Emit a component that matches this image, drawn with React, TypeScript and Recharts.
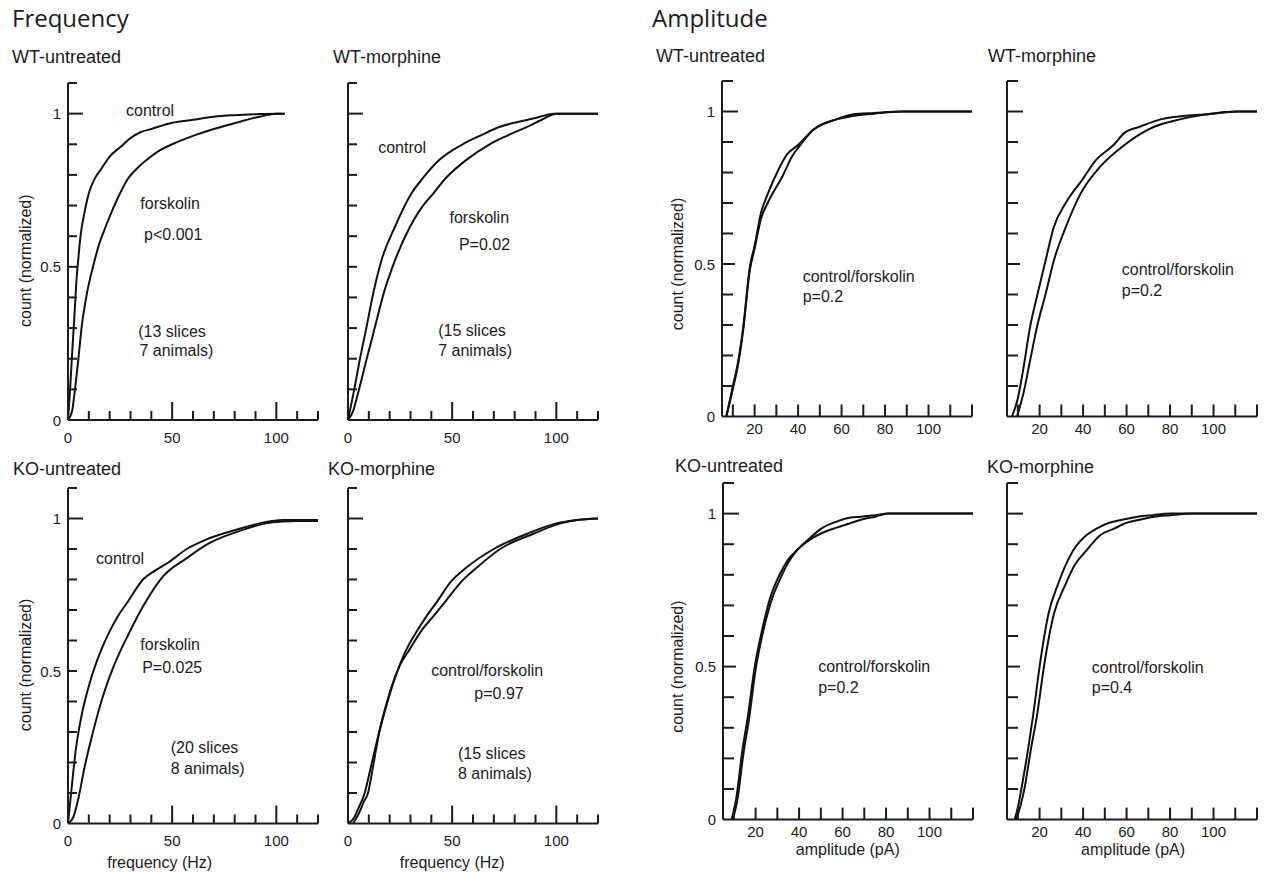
import React from 'react';
import { LineChart, Line, XAxis, YAxis, ReferenceDot } from 'recharts';

type Pt = { x: number; y: number };

// ---------- DATA ----------
const freqXTicks = [0, 10, 20, 30, 40, 50, 60, 70, 80, 90, 100, 110, 120];
const ampXTicks = [10, 20, 30, 40, 50, 60, 70, 80, 90, 100, 110, 120];
const yTicks = [0, 0.1, 0.2, 0.3, 0.4, 0.5, 0.6, 0.7, 0.8, 0.9, 1, 1.1];
const freqXLabels = [0, 50, 100];
const ampXLabels = [20, 40, 60, 80, 100];
const yLabelValues = [0, 0.5, 1];

const freqWtUntreatedControl: Pt[] = [
  { x: 0, y: 0 }, { x: 1, y: 0.1 }, { x: 2, y: 0.22 }, { x: 3, y: 0.33 }, { x: 4, y: 0.45 },
  { x: 5, y: 0.53 }, { x: 6, y: 0.6 }, { x: 8, y: 0.68 }, { x: 10, y: 0.74 }, { x: 13, y: 0.79 },
  { x: 16, y: 0.82 }, { x: 20, y: 0.86 }, { x: 25, y: 0.89 }, { x: 30, y: 0.92 }, { x: 35, y: 0.94 },
  { x: 40, y: 0.95 }, { x: 50, y: 0.97 }, { x: 60, y: 0.98 }, { x: 70, y: 0.99 }, { x: 80, y: 0.995 },
  { x: 90, y: 0.998 }, { x: 100, y: 1 }, { x: 104, y: 1 },
];
const freqWtUntreatedForsk: Pt[] = [
  { x: 0, y: 0 }, { x: 2, y: 0.03 }, { x: 3, y: 0.08 }, { x: 5, y: 0.2 }, { x: 6.5, y: 0.3 },
  { x: 9, y: 0.41 }, { x: 12, y: 0.5 }, { x: 15, y: 0.575 }, { x: 18, y: 0.63 }, { x: 21, y: 0.68 },
  { x: 25, y: 0.74 }, { x: 29, y: 0.79 }, { x: 33, y: 0.82 }, { x: 38, y: 0.85 }, { x: 44, y: 0.88 },
  { x: 50, y: 0.9 }, { x: 61, y: 0.93 }, { x: 70, y: 0.95 }, { x: 79, y: 0.967 }, { x: 92, y: 0.99 },
  { x: 100, y: 1 }, { x: 104, y: 1 },
];
const freqWtMorphineControl: Pt[] = [
  { x: 0, y: 0 }, { x: 3, y: 0.1 }, { x: 5.6, y: 0.195 }, { x: 8.8, y: 0.3 }, { x: 12, y: 0.41 },
  { x: 16, y: 0.52 }, { x: 22.5, y: 0.63 }, { x: 30.5, y: 0.74 }, { x: 36, y: 0.79 }, { x: 44, y: 0.85 },
  { x: 55, y: 0.9 }, { x: 64, y: 0.93 }, { x: 73, y: 0.957 }, { x: 81, y: 0.972 }, { x: 89, y: 0.984 },
  { x: 99, y: 1 }, { x: 110, y: 1 }, { x: 120, y: 1 },
];
const freqWtMorphineForsk: Pt[] = [
  { x: 0, y: 0 }, { x: 2.5, y: 0.03 }, { x: 4.8, y: 0.087 }, { x: 8.8, y: 0.195 }, { x: 12.8, y: 0.3 },
  { x: 17, y: 0.41 }, { x: 22.5, y: 0.52 }, { x: 29.7, y: 0.63 }, { x: 35, y: 0.69 }, { x: 41, y: 0.74 },
  { x: 47, y: 0.79 }, { x: 57, y: 0.85 }, { x: 68, y: 0.9 }, { x: 77, y: 0.93 }, { x: 86, y: 0.957 },
  { x: 93, y: 0.98 }, { x: 100, y: 1 }, { x: 110, y: 1 }, { x: 120, y: 1 },
];
const freqKoUntreatedControl: Pt[] = [
  { x: 0, y: 0 }, { x: 1.5, y: 0.1 }, { x: 3.7, y: 0.24 }, { x: 6.4, y: 0.35 }, { x: 10.4, y: 0.46 },
  { x: 16, y: 0.57 }, { x: 20, y: 0.63 }, { x: 24, y: 0.68 }, { x: 29, y: 0.73 }, { x: 36, y: 0.8 },
  { x: 42, y: 0.83 }, { x: 48, y: 0.855 }, { x: 57, y: 0.9 }, { x: 66, y: 0.93 }, { x: 79, y: 0.96 },
  { x: 92, y: 0.984 }, { x: 103, y: 0.995 }, { x: 110, y: 0.995 }, { x: 120, y: 0.995 },
];
const freqKoUntreatedForsk: Pt[] = [
  { x: 0, y: 0 }, { x: 2.5, y: 0.02 }, { x: 4.8, y: 0.077 }, { x: 8, y: 0.186 }, { x: 12, y: 0.3 },
  { x: 16, y: 0.4 }, { x: 21.6, y: 0.51 }, { x: 29, y: 0.62 }, { x: 37.6, y: 0.73 }, { x: 45.6, y: 0.81 },
  { x: 57, y: 0.87 }, { x: 68, y: 0.92 }, { x: 81, y: 0.956 }, { x: 95, y: 0.984 }, { x: 103, y: 0.99 },
  { x: 110, y: 0.992 }, { x: 120, y: 0.992 },
];
const freqKoMorphineControl: Pt[] = [
  { x: 0, y: 0 }, { x: 3, y: 0.02 }, { x: 5, y: 0.05 }, { x: 8, y: 0.1 }, { x: 11, y: 0.186 },
  { x: 15, y: 0.3 }, { x: 19, y: 0.4 }, { x: 21.7, y: 0.46 }, { x: 28, y: 0.57 }, { x: 33, y: 0.63 },
  { x: 37.7, y: 0.68 }, { x: 43, y: 0.73 }, { x: 49, y: 0.79 }, { x: 57, y: 0.84 }, { x: 70, y: 0.9 },
  { x: 86, y: 0.95 }, { x: 100, y: 0.984 }, { x: 110, y: 0.995 }, { x: 120, y: 1 },
];
const freqKoMorphineForsk: Pt[] = [
  { x: 2.4, y: 0 }, { x: 5, y: 0.03 }, { x: 7.5, y: 0.07 }, { x: 9.6, y: 0.1 }, { x: 12, y: 0.186 },
  { x: 15, y: 0.3 }, { x: 18.8, y: 0.4 }, { x: 21, y: 0.45 }, { x: 25, y: 0.52 }, { x: 29.5, y: 0.57 },
  { x: 35, y: 0.63 }, { x: 41, y: 0.68 }, { x: 47, y: 0.73 }, { x: 54, y: 0.79 }, { x: 62, y: 0.84 },
  { x: 73, y: 0.9 }, { x: 89, y: 0.95 }, { x: 102, y: 0.984 }, { x: 110, y: 0.995 }, { x: 120, y: 1 },
];
const ampWtUntreatedControl: Pt[] = [
  { x: 7, y: 0 }, { x: 10, y: 0.1 }, { x: 12.4, y: 0.18 }, { x: 14.7, y: 0.29 }, { x: 17.8, y: 0.49 },
  { x: 20, y: 0.56 }, { x: 23, y: 0.67 }, { x: 25.5, y: 0.72 }, { x: 31, y: 0.81 }, { x: 35, y: 0.86 },
  { x: 40, y: 0.89 }, { x: 47, y: 0.94 }, { x: 58, y: 0.975 }, { x: 65, y: 0.99 }, { x: 75, y: 0.995 },
  { x: 88, y: 1 }, { x: 100, y: 1 }, { x: 120, y: 1 },
];
const ampWtUntreatedForsk: Pt[] = [
  { x: 7, y: 0 }, { x: 10, y: 0.09 }, { x: 12.4, y: 0.17 }, { x: 14.7, y: 0.28 }, { x: 17.8, y: 0.48 },
  { x: 20, y: 0.55 }, { x: 23, y: 0.65 }, { x: 26, y: 0.7 }, { x: 33, y: 0.79 }, { x: 37, y: 0.85 },
  { x: 41, y: 0.89 }, { x: 47, y: 0.94 }, { x: 58, y: 0.975 }, { x: 65, y: 0.985 }, { x: 75, y: 0.993 },
  { x: 88, y: 1 }, { x: 100, y: 1 }, { x: 120, y: 1 },
];
const ampWtMorphineControl: Pt[] = [
  { x: 7.3, y: 0 }, { x: 10, y: 0.06 }, { x: 12, y: 0.135 }, { x: 15.8, y: 0.3 }, { x: 19, y: 0.4 },
  { x: 22.7, y: 0.51 }, { x: 26.5, y: 0.62 }, { x: 32, y: 0.7 }, { x: 40, y: 0.78 }, { x: 45.8, y: 0.84 },
  { x: 54, y: 0.89 }, { x: 59, y: 0.93 }, { x: 66, y: 0.95 }, { x: 76, y: 0.975 }, { x: 86, y: 0.985 },
  { x: 96, y: 0.99 }, { x: 111, y: 1 }, { x: 120, y: 1 },
];
const ampWtMorphineForsk: Pt[] = [
  { x: 9.6, y: 0 }, { x: 12.7, y: 0.08 }, { x: 15.8, y: 0.19 }, { x: 19, y: 0.3 }, { x: 22.7, y: 0.4 },
  { x: 26.5, y: 0.51 }, { x: 32, y: 0.62 }, { x: 38.8, y: 0.73 }, { x: 48, y: 0.82 }, { x: 59, y: 0.89 },
  { x: 66, y: 0.925 }, { x: 72.7, y: 0.95 }, { x: 85, y: 0.975 }, { x: 96, y: 0.99 }, { x: 111, y: 1 },
  { x: 120, y: 1 },
];
const ampKoUntreatedControl: Pt[] = [
  { x: 9, y: 0 }, { x: 11, y: 0.065 }, { x: 14, y: 0.23 }, { x: 16.5, y: 0.34 }, { x: 19.6, y: 0.5 },
  { x: 22.7, y: 0.61 }, { x: 26.5, y: 0.72 }, { x: 31, y: 0.8 }, { x: 35, y: 0.85 }, { x: 39, y: 0.88 },
  { x: 45, y: 0.92 }, { x: 50, y: 0.95 }, { x: 57.7, y: 0.975 }, { x: 62, y: 0.985 }, { x: 68.5, y: 0.99 },
  { x: 75, y: 0.995 }, { x: 81, y: 1 }, { x: 100, y: 1 }, { x: 120, y: 1 },
];
const ampKoUntreatedForsk: Pt[] = [
  { x: 9.5, y: 0 }, { x: 11.5, y: 0.06 }, { x: 14.5, y: 0.22 }, { x: 17, y: 0.33 }, { x: 20, y: 0.49 },
  { x: 23, y: 0.6 }, { x: 27, y: 0.71 }, { x: 31.5, y: 0.79 }, { x: 35, y: 0.84 }, { x: 39, y: 0.88 },
  { x: 45, y: 0.915 }, { x: 50, y: 0.935 }, { x: 57.7, y: 0.955 }, { x: 62, y: 0.965 }, { x: 68.5, y: 0.98 },
  { x: 75, y: 0.99 }, { x: 81, y: 1 }, { x: 100, y: 1 }, { x: 120, y: 1 },
];
const ampKoMorphineControl: Pt[] = [
  { x: 8.5, y: 0 }, { x: 10, y: 0.04 }, { x: 11.6, y: 0.1 }, { x: 14.7, y: 0.23 }, { x: 17, y: 0.34 },
  { x: 20, y: 0.5 }, { x: 24, y: 0.67 }, { x: 28.5, y: 0.77 }, { x: 35.5, y: 0.88 }, { x: 41.6, y: 0.93 },
  { x: 46, y: 0.95 }, { x: 52, y: 0.97 }, { x: 58, y: 0.98 }, { x: 65, y: 0.99 }, { x: 72, y: 0.995 },
  { x: 80, y: 1 }, { x: 100, y: 1 }, { x: 120, y: 1 },
];
const ampKoMorphineForsk: Pt[] = [
  { x: 9.3, y: 0 }, { x: 11, y: 0.04 }, { x: 13, y: 0.1 }, { x: 16, y: 0.23 }, { x: 18.8, y: 0.34 },
  { x: 22, y: 0.5 }, { x: 26.5, y: 0.67 }, { x: 32, y: 0.77 }, { x: 36, y: 0.83 }, { x: 41.6, y: 0.88 },
  { x: 48, y: 0.93 }, { x: 54, y: 0.95 }, { x: 60, y: 0.97 }, { x: 66, y: 0.98 }, { x: 72.7, y: 0.99 },
  { x: 80, y: 0.995 }, { x: 91, y: 1 }, { x: 100, y: 1 }, { x: 120, y: 1 },
];

// ---------- STYLE ----------
const FONT = '"Liberation Sans", Arial, Helvetica, sans-serif';
const INK = '#1c1c1c';

type Annot = { x: number; y: number; text: string; anchor?: 'start' | 'middle' };
type PanelCfg = {
  kind: 'freq' | 'amp';
  left: number; top: number; w: number; h: number;
  control: Pt[]; forsk: Pt[];
  showYLabels: boolean;
  xTitleAt?: number;
  annots: Annot[];
};

const panels: PanelCfg[] = [
  {
    kind: 'freq', left: 68, top: 83, w: 250, h: 337, control: freqWtUntreatedControl, forsk: freqWtUntreatedForsk,
    showYLabels: true,
    annots: [
      { x: 39.4, y: 1.01, text: 'control' }, { x: 49, y: 0.708, text: 'forskolin' },
      { x: 50.5, y: 0.606, text: 'p<0.001' }, { x: 33.7, y: 0.29, text: '(13 slices', anchor: 'start' },
      { x: 34.3, y: 0.228, text: '7 animals)', anchor: 'start' },
    ],
  },
  {
    kind: 'freq', left: 348, top: 83, w: 250, h: 337, control: freqWtMorphineControl, forsk: freqWtMorphineForsk,
    showYLabels: false,
    annots: [
      { x: 26, y: 0.89, text: 'control' }, { x: 63, y: 0.66, text: 'forskolin' },
      { x: 65.5, y: 0.573, text: 'P=0.02' }, { x: 43.3, y: 0.293, text: '(15 slices', anchor: 'start' },
      { x: 43.3, y: 0.228, text: '7 animals)', anchor: 'start' },
    ],
  },
  {
    kind: 'freq', left: 68, top: 487.5, w: 250, h: 335.5, control: freqKoUntreatedControl, forsk: freqKoUntreatedForsk,
    showYLabels: true, xTitleAt: 44,
    annots: [
      { x: 25, y: 0.869, text: 'control' }, { x: 49, y: 0.587, text: 'forskolin' },
      { x: 50, y: 0.511, text: 'P=0.025' }, { x: 49.3, y: 0.249, text: '(20 slices', anchor: 'start' },
      { x: 49.3, y: 0.18, text: '8 animals)', anchor: 'start' },
    ],
  },
  {
    kind: 'freq', left: 348, top: 487.5, w: 250, h: 335.5, control: freqKoMorphineControl, forsk: freqKoMorphineForsk,
    showYLabels: false, xTitleAt: 50,
    annots: [
      { x: 66.8, y: 0.502, text: 'control/forskolin' }, { x: 72.5, y: 0.427, text: 'p=0.97' },
      { x: 52.8, y: 0.23, text: '(15 slices', anchor: 'start' },
      { x: 52.8, y: 0.165, text: '8 animals)', anchor: 'start' },
    ],
  },
  {
    kind: 'amp', left: 722, top: 80.5, w: 250, h: 335.5, control: ampWtUntreatedControl, forsk: ampWtUntreatedForsk,
    showYLabels: true,
    annots: [
      { x: 42.1, y: 0.459, text: 'control/forskolin', anchor: 'start' },
      { x: 42.1, y: 0.393, text: 'p=0.2', anchor: 'start' },
    ],
  },
  {
    kind: 'amp', left: 1007, top: 80.5, w: 250, h: 335.5, control: ampWtMorphineControl, forsk: ampWtMorphineForsk,
    showYLabels: false,
    annots: [
      { x: 57.8, y: 0.482, text: 'control/forskolin', anchor: 'start' },
      { x: 57.8, y: 0.413, text: 'p=0.2', anchor: 'start' },
    ],
  },
  {
    kind: 'amp', left: 723, top: 483.4, w: 250, h: 336.6, control: ampKoUntreatedControl, forsk: ampKoUntreatedForsk,
    showYLabels: true, xTitleAt: 62.4,
    annots: [
      { x: 48.8, y: 0.5, text: 'control/forskolin', anchor: 'start' },
      { x: 48.8, y: 0.432, text: 'p=0.2', anchor: 'start' },
    ],
  },
  {
    kind: 'amp', left: 1007, top: 483.4, w: 250, h: 336.6, control: ampKoMorphineControl, forsk: ampKoMorphineForsk,
    showYLabels: false, xTitleAt: 63,
    annots: [
      { x: 44, y: 0.498, text: 'control/forskolin', anchor: 'start' },
      { x: 44, y: 0.431, text: 'p=0.4', anchor: 'start' },
    ],
  },
];

const titles = [
  { text: 'Frequency', x: 12, y: 27, size: 24, font: '"Open Sans", sans-serif' },
  { text: 'Amplitude', x: 652, y: 27, size: 24, font: '"Open Sans", sans-serif' },
  { text: 'WT-untreated', x: 12, y: 63, size: 18, font: FONT },
  { text: 'WT-morphine', x: 333, y: 63, size: 18, font: FONT },
  { text: 'WT-untreated', x: 656, y: 62, size: 18, font: FONT },
  { text: 'WT-morphine', x: 988, y: 62, size: 18, font: FONT },
  { text: 'KO-untreated', x: 13, y: 475, size: 18, font: FONT },
  { text: 'KO-morphine', x: 328, y: 475, size: 18, font: FONT },
  { text: 'KO-untreated', x: 675, y: 472, size: 18, font: FONT },
  { text: 'KO-morphine', x: 987, y: 473, size: 18, font: FONT },
];

function merge(c: Pt[], f: Pt[]) {
  const rows: any[] = [
    ...c.map((p) => ({ x: p.x, c: p.y })),
    ...f.map((p) => ({ x: p.x, f: p.y })),
  ];
  rows.sort((a, b) => a.x - b.x);
  return rows;
}

const makeXTick = (kind: 'freq' | 'amp') => (props: any) => {
  const { x, y, payload } = props;
  const v = payload.value;
  const isFreq = kind === 'freq';
  const len = isFreq ? (v % 50 === 0 ? 18 : 9) : 12;
  const labels = isFreq ? freqXLabels : ampXLabels;
  return (
    <g>
      {v !== 0 && <line x1={x} x2={x} y1={y} y2={y - len} stroke={INK} strokeWidth={2} />}
      {labels.includes(v) && (
        <text x={x} y={y + (isFreq ? 17 : 12)} textAnchor="middle" dominantBaseline="central"
          fontFamily={FONT} fontSize={15} fill={INK}>{v}</text>
      )}
    </g>
  );
};

const makeYTick = (kind: 'freq' | 'amp', showLabels: boolean) => (props: any) => {
  const { x, y, payload } = props;
  const v = payload.value;
  let len = 9;
  if (kind === 'freq') len = v === 1 ? 15 : 9;
  else len = v === 1 ? 16 : v === 0.5 ? 13 : 11;
  return (
    <g>
      {v !== 0 && <line x1={x} x2={x + len} y1={y} y2={y} stroke={INK} strokeWidth={2} />}
      {showLabels && yLabelValues.includes(v) && (
        <text x={x - 7} y={y} textAnchor="end" dominantBaseline="central"
          fontFamily={FONT} fontSize={15} fill={INK}>{v}</text>
      )}
    </g>
  );
};

function Panel({ cfg }: { cfg: PanelCfg }) {
  const PL = 70, PT = 12, PR = 10, PB = 52;
  const AX = 1; // axis band size (must be > 0 for the axis to render)
  const isFreq = cfg.kind === 'freq';
  const data = merge(cfg.control, cfg.forsk);
  const xMin = isFreq ? 0 : 5;
  return (
    <div style={{ position: 'absolute', left: cfg.left - PL, top: cfg.top - PT }}>
      <LineChart width={cfg.w + PL + PR} height={cfg.h + PT + PB} data={data}
        margin={{ top: PT, left: PL - AX, right: PR, bottom: PB - AX }}>
        <XAxis type="number" dataKey="x" domain={[xMin, 120]} ticks={isFreq ? freqXTicks : ampXTicks}
          interval={0} height={AX} tickSize={0} tickMargin={0} tickLine={false} allowDataOverflow
          axisLine={{ stroke: INK, strokeWidth: 2 }} tick={makeXTick(cfg.kind)} />
        <YAxis type="number" domain={[0, 1.1]} ticks={yTicks} interval={0} width={AX} tickSize={0}
          tickMargin={0} tickLine={false} allowDataOverflow
          axisLine={{ stroke: INK, strokeWidth: 2 }} tick={makeYTick(cfg.kind, cfg.showYLabels)} />
        <Line type="monotoneX" dataKey="c" stroke="#111" strokeWidth={2} dot={false} connectNulls
          isAnimationActive={false} />
        <Line type="monotoneX" dataKey="f" stroke="#111" strokeWidth={2} dot={false} connectNulls
          isAnimationActive={false} />
        {cfg.annots.map((a, i) => (
          <ReferenceDot key={i} x={a.x} y={a.y} r={0} ifOverflow="visible"
            shape={(p: any) => (
              <text x={p.cx} y={p.cy} textAnchor={a.anchor || 'middle'} dominantBaseline="central"
                fontFamily={FONT} fontSize={16} fill={INK}>{a.text}</text>
            )} />
        ))}
        {cfg.showYLabels && (
          <ReferenceDot x={xMin} y={isFreq ? 0.52 : 0.5} r={0} ifOverflow="visible"
            shape={(p: any) => (
              <text x={p.cx - (isFreq ? 42 : 45)} y={p.cy} textAnchor="middle" dominantBaseline="central"
                transform={`rotate(-90 ${p.cx - (isFreq ? 42 : 45)} ${p.cy})`}
                fontFamily={FONT} fontSize={16} fill={INK}>count (normalized)</text>
            )} />
        )}
        {cfg.xTitleAt !== undefined && (
          <ReferenceDot x={cfg.xTitleAt} y={0} r={0} ifOverflow="visible"
            shape={(p: any) => (
              <text x={p.cx} y={p.cy + (isFreq ? 39 : 30)} textAnchor="middle" dominantBaseline="central"
                fontFamily={FONT} fontSize={16} fill={INK}>{isFreq ? 'frequency (Hz)' : 'amplitude (pA)'}</text>
            )} />
        )}
      </LineChart>
    </div>
  );
}

export default function App() {
  return (
    <div style={{ position: 'absolute', left: 0, top: 0, width: 1266, height: 872, background: '#fff', overflow: 'hidden' }}>
      {panels.map((p, i) => <Panel key={i} cfg={p} />)}
      <svg width={1266} height={872} style={{ position: 'absolute', left: 0, top: 0, pointerEvents: 'none' }}>
        {titles.map((t, i) => (
          <text key={i} x={t.x} y={t.y} fontFamily={t.font} fontSize={t.size} fill={INK}>{t.text}</text>
        ))}
      </svg>
    </div>
  );
}
